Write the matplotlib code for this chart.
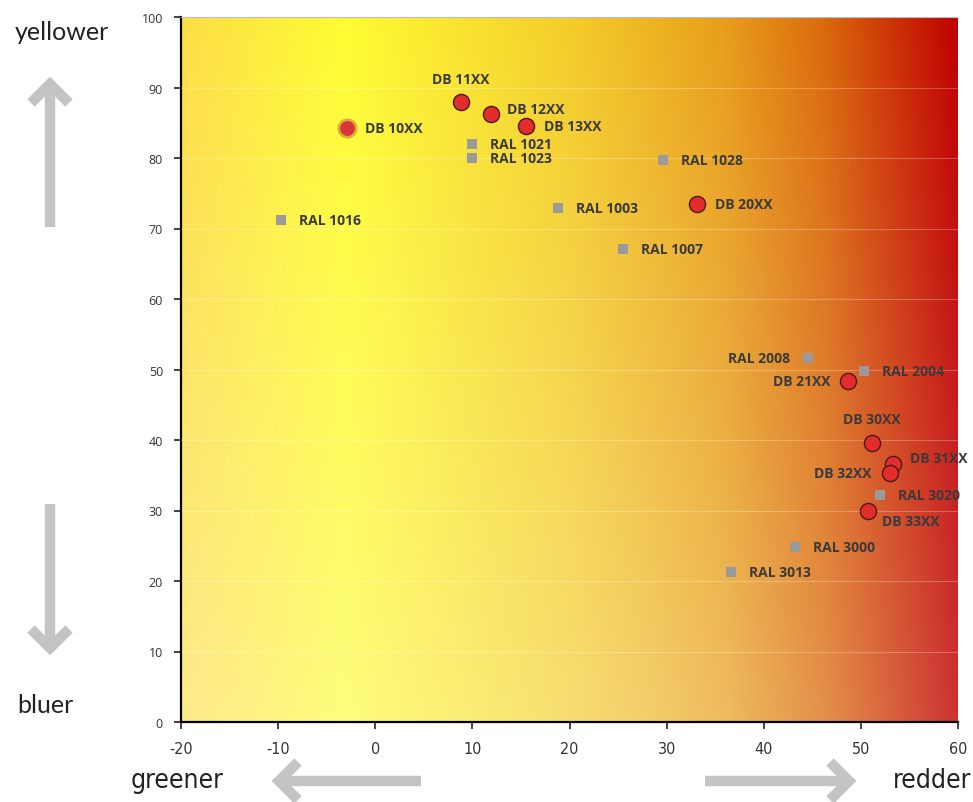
import numpy as np
import matplotlib.pyplot as plt
from matplotlib.lines import Line2D
from matplotlib import font_manager

plt.rcParams['axes.unicode_minus'] = False

# ===== DATA =====
db_names = ["DB 10XX", "DB 11XX", "DB 12XX", "DB 13XX", "DB 20XX", "DB 21XX",
            "DB 30XX", "DB 31XX", "DB 32XX", "DB 33XX"]
db_x = [-2.9, 8.8, 11.9, 15.5, 33.1, 48.7, 51.1, 53.3, 53.0, 50.7]
db_y = [84.3, 87.9, 86.2, 84.5, 73.5, 48.4, 39.6, 36.6, 35.3, 29.9]
db_pos = ["right", "above", "upright", "right", "right", "left",
          "above", "upright", "left", "downright"]

ral_names = ["RAL 1016", "RAL 1021", "RAL 1023", "RAL 1028", "RAL 1003", "RAL 1007",
             "RAL 2008", "RAL 2004", "RAL 3020", "RAL 3000", "RAL 3013"]
ral_x = [-9.7, 10.0, 10.0, 29.6, 18.8, 25.5, 44.6, 50.3, 52.0, 43.2, 36.6]
ral_y = [71.2, 82.0, 80.0, 79.7, 72.9, 67.1, 51.6, 49.8, 32.2, 24.8, 21.3]
ral_pos = ["right", "right", "right", "right", "right", "right",
           "left", "right", "right", "right", "right"]

x_ticks = list(range(-20, 61, 10))
y_ticks = list(range(0, 101, 10))

# condensed face for x ticks / horizontal words, if there is one
names = {f.name for f in font_manager.fontManager.ttflist}
if 'Liberation Sans Narrow' in names:
    narrow = dict(family='Liberation Sans Narrow')
else:
    narrow = dict(family='DejaVu Sans', stretch='condensed')

# ===== FIGURE =====
fig = plt.figure(figsize=(9.73, 8.03), dpi=100)
ax = fig.add_axes([181/973, 80/803, 777/973, 705/803])

# background gradient (left->right yellow to red, lighter towards the bottom)
stops = [0.0, 0.21, 0.5, 0.7, 0.83, 1.0]
top_cols = np.array([[253, 222, 70], [255, 252, 50], [244, 205, 42],
                     [232, 158, 26], [218, 105, 12], [192, 0, 0]]) / 255.0
nx, ny = 400, 200
u = np.linspace(0, 1, nx)
row = np.stack([np.interp(u, stops, top_cols[:, k]) for k in range(3)], axis=-1)
v = np.linspace(0, 1, ny)[:, None, None]
wmax = np.interp(u, [0, 0.6, 1], [0.38, 0.33, 0.2])[None, :, None]
white = wmax * v
img = row[None, :, :] * (1 - white) + white
ax.imshow(img, extent=[-20, 60, 0, 100], origin='upper', aspect='auto', zorder=0,
          interpolation='bilinear')

ax.set_xlim(-20, 60)
ax.set_ylim(0, 100)
ax.set_xticks(x_ticks)
ax.set_yticks(y_ticks)
for t in y_ticks[1:]:
    ax.axhline(t, color='white', alpha=0.25, lw=0.8, zorder=1)

ax.spines['right'].set_visible(False)
ax.spines['top'].set_color('#bbbbbb')
ax.spines['top'].set_linewidth(0.8)
ax.spines['left'].set_linewidth(1.6)
ax.spines['bottom'].set_linewidth(1.6)
ax.tick_params(axis='both', length=5, width=1.2, color='#222222')
ax.tick_params(axis='y', labelsize=9, labelcolor='#333333', pad=8)
ax.tick_params(axis='x', labelsize=11.5, labelcolor='#333333', pad=9)
for lab in ax.get_xticklabels():
    lab.set(**narrow)
for lab in ax.get_yticklabels():
    lab.set_family(['Open Sans', 'DejaVu Sans'])

# points
ax.scatter(ral_x, ral_y, marker='s', s=62, color='#9a9a9a', zorder=3, linewidths=0)
ax.scatter(db_x[1:], db_y[1:], s=135, color='#e52c2c', edgecolors='#4a1a1a',
           linewidths=1.0, zorder=4)
ax.scatter(db_x[:1], db_y[:1], s=210, color='#a02030', alpha=0.35, linewidths=0, zorder=4)
ax.scatter(db_x[:1], db_y[:1], s=115, color='#d9363a', linewidths=0, zorder=4)

offsets = {"right": ((13, 0), 'left', 'center'),
           "left": ((-13, 0), 'right', 'center'),
           "above": ((0, 12), 'center', 'bottom'),
           "upright": ((12, 4), 'left', 'center'),
           "downright": ((10, -7), 'left', 'center')}


def put_labels(names, xs, ys, poss):
    for n, x, y, p in zip(names, xs, ys, poss):
        off, ha, va = offsets[p]
        ax.annotate(n, (x, y), xytext=off, textcoords='offset points', ha=ha, va=va,
                    fontsize=10, fontweight='bold', color='#3a3a3a',
                    family=['Open Sans', 'DejaVu Sans'], zorder=5)


put_labels(db_names, db_x, db_y, db_pos)
put_labels(ral_names, ral_x, ral_y, ral_pos)

# direction words
W, H = 973.0, 803.0


def fx(px):
    return px / W


def fy(py):
    return 1 - py / H


fig.text(fx(62), fy(33), "yellower", ha='center', va='center', fontsize=18,
         color='#222222', family=['Lato', 'DejaVu Sans'])
fig.text(fx(45), fy(706), "bluer", ha='center', va='center', fontsize=18,
         color='#222222', family=['Lato', 'DejaVu Sans'])
fig.text(fx(177), fy(781), "greener", ha='center', va='center', fontsize=19,
         color='#222222', **narrow)
fig.text(fx(932), fy(781), "redder", ha='center', va='center', fontsize=19,
         color='#222222', **narrow)

# gray arrows
acol = '#c4c4c4'
alw = 7.5


def fline(xs, ys):
    fig.add_artist(Line2D([fx(a) for a in xs], [fy(b) for b in ys], color=acol,
                          lw=alw, solid_capstyle='butt', solid_joinstyle='miter'))


# up arrow
fline([50, 50], [228, 88])
fline([31, 50, 69], [104, 85, 104])
# down arrow
fline([50, 50], [505, 645])
fline([31, 50, 69], [630, 649, 630])
# left arrow
fline([421, 282], [782, 782])
fline([298, 279, 298], [763, 782, 801])
# right arrow
fline([705, 845], [782, 782])
fline([830, 849, 830], [763, 782, 801])

fig.savefig('out.png', dpi=100)
